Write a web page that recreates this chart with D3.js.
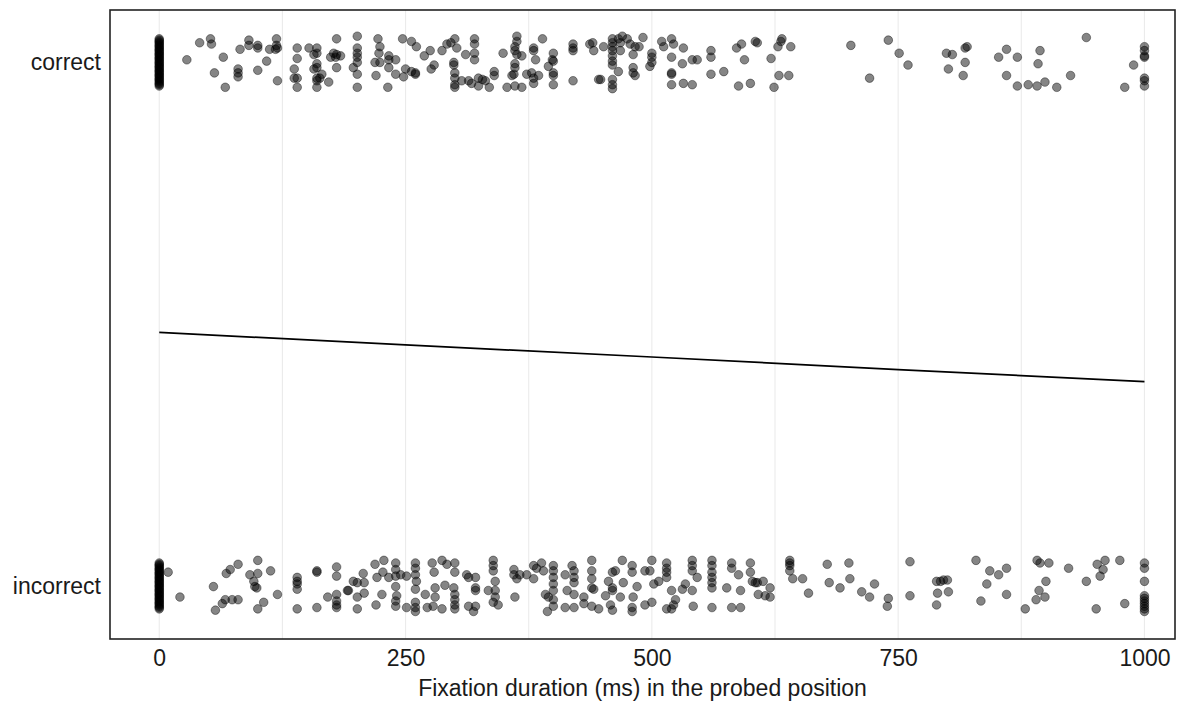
<!DOCTYPE html>
<html>
<head>
<meta charset="utf-8">
<script src="https://cdn.jsdelivr.net/npm/d3@7"></script>
<style>
  body { margin: 0; background: #fff; }
  svg { display: block; font-family: "Liberation Sans", Arial, sans-serif; }
</style>
</head>
<body>
<div id="chart"></div>
<script>
// categories (1 = correct, 0 = incorrect)
var categories = [{label: "correct", value: 1}, {label: "incorrect", value: 0}];
var xTicks = [0, 250, 500, 750, 1000];
var gridTicks = [0, 125, 250, 375, 500, 625, 750, 875, 1000];
var jitterHeight = 0.05;

// [fixation duration ms, vertical jitter as fraction of jitterHeight]
var correctPoints = [
  [0,0.9],[0,0.85],[0,0.8],[0,0.75],[0,0.7],[0,0.65],[0,0.6],[0,0.55],[0,0.5],[0,0.45],[0,0.4],[0,0.35],[0,0.3],[0,0.25],[0,0.2],[0,0.15],[0,0.1],[0,0.05],[0,0],
  [0,-0.05],[0,-0.1],[0,-0.15],[0,-0.2],[0,-0.25],[0,-0.3],[0,-0.35],[0,-0.4],[0,-0.45],[0,-0.5],[0,-0.55],[0,-0.6],[0,-0.65],[0,-0.7],[0,-0.75],[0,-0.8],[0,-0.85],[0,-0.9],
  [28,0.1],[41,0.75],[52,0.9],[53,0.7],[56,-0.4],[65,0.2],[67,-0.95],
  [80,-0.25],[80,-0.4],[80,-0.55],[82,0.5],[91,0.85],[91,0.65],[100,0.65],[100,0.55],[100,-0.3],[109,0.05],[112,0.5],[119,0.9],[119,0.65],[120,0.55],[118,0.5],[120,-0.7],
  [140,0.55],[140,0.15],[137,-0.25],[137,-0.6],[140,-0.6],[140,-0.95],[152,0.55],[160,0.55],[160,0.35],[157,0.3],[160,-0.05],[160,-0.2],[157,-0.25],[160,-0.6],[163,-0.6],[160,-0.7],[160,-0.95],[165,-0.45],[172,-0.75],
  [180,0.9],[177,0.35],[180,0.3],[184,0.25],[179,0.2],[174,0.2],[180,-0.2],
  [201,1.0],[201,0.55],[201,0.35],[201,0.2],[201,0],[197,-0.2],[201,-0.45],[201,-0.95],
  [222,0.9],[224,0.6],[223,0.35],[219,0],[224,0],[233,0.25],[233,0.1],[240,0.1],[233,-0.2],[220,-0.5],[240,-0.45],[232,-0.95],
  [247,0.9],[256,0.8],[261,0.6],[250,-0.25],[248,-0.55],[256,-0.35],[260,-0.4],[260,-0.45],
  [269,0.25],[275,0.45],[279,-0.1],[276,-0.25],
  [287,0.45],[292,0.7],[296,0.75],[300,0.9],[302,0.55],[299,0],[299,-0.1],[300,-0.4],[300,-0.6],[300,-0.85],[300,-0.95],
  [307,-0.7],[314,-0.7],[317,-0.8],[311,0.3],
  [320,0.9],[320,0.7],[320,0.35],[320,0.1],
  [324,-0.6],[328,-0.65],[324,-0.9],[331,-0.7],[335,-0.95],[340,-0.35],[340,-0.5],
  [349,0.35],[353,-0.95],[361,-0.9],[368,-0.95],
  [363,1.0],[363,0.8],[361,0.6],[361,0.45],[363,0.3],[368,0.25],[361,-0.05],[361,-0.2],[360,-0.45],[358,-0.5],
  [380,0.55],[380,0.45],[382,0.1],[373,-0.45],[378,-0.4],[380,-0.6],[380,-0.8],[385,-0.5],
  [389,0.9],[395,-0.15],[399,0.1],
  [400,0.35],[400,0.05],[400,-0.4],[400,-0.5],[400,-0.85],
  [420,0.7],[420,0.55],[420,0.45],[420,-0.7],
  [437,0.7],[440,0.75],[441,0.45],[446,-0.65],[448,-0.65],[451,0.6],
  [460,0.9],[460,0.75],[460,0.6],[460,0.45],[460,0.25],[460,0.05],[460,-0.1],[460,-0.65],[460,-0.85],[460,-1.0],
  [466,0.9],[470,1.0],[475,0.9],[478,0.7],[483,0.6],[487,0.6],[468,0.75],[468,0.45],[466,-0.35],[481,0.3],[481,-0.2],[481,-0.4],[483,-0.5],
  [491,0.95],[500,0.35],[500,0.2],[500,0],[498,-0.15],
  [510,0.8],[512,0.6],[520,0.9],[522,0.7],[532,0.55],[520,0.2],[520,-0.4],[520,-0.45],[520,-0.85],[532,-0.8],[541,-0.85],[531,-0.05],[541,0.1],[546,0.1],
  [560,0.45],[560,0.2],[560,-0.45],[573,-0.35],[586,0.55],[591,0.7],[605,0.8],[594,0.1],[588,-0.9],[600,-0.8],
  [607,0.75],[632,0.9],[631,0.8],[628,0.6],[641,0.6],[621,0.15],[629,-0.5],[639,-0.5],[624,-0.95],
  [702,0.65],[721,-0.6],[740,0.85],[751,0.35],[760,-0.1],[799,0.35],[805,0.3],[801,-0.25],
  [818,0.55],[820,0.6],[818,0],[816,-0.5],
  [860,0.5],[852,0.2],[871,0.2],[860,-0.5],[871,-0.9],[882,-0.85],[891,-0.9],[899,-0.75],[894,0.45],[892,-0.05],
  [911,-0.95],[925,-0.5],[941,0.95],[989,-0.1],[980,-0.95],
  [1000,0.6],[1000,0.45],[1000,0.25],[1000,0.2],[1000,-0.6],[1000,-0.7],[1000,-0.9]
];

var incorrectPoints = [
  [0,0.9],[0,0.85],[0,0.8],[0,0.75],[0,0.7],[0,0.65],[0,0.6],[0,0.55],[0,0.5],[0,0.45],[0,0.4],[0,0.35],[0,0.3],[0,0.25],[0,0.2],[0,0.15],[0,0.1],[0,0.05],[0,0],
  [0,-0.05],[0,-0.1],[0,-0.15],[0,-0.2],[0,-0.25],[0,-0.3],[0,-0.35],[0,-0.4],[0,-0.45],[0,-0.5],[0,-0.55],[0,-0.6],[0,-0.65],[0,-0.7],[0,-0.75],[0,-0.8],[0,-0.85],
  [9,0.55],[21,-0.4],[55,0],[57,-0.9],[68,0.5],[72,0.65],[80,0.85],[64,-0.65],[67,-0.5],[74,-0.5],[80,-0.5],
  [100,1.0],[92,0.45],[100,0.5],[96,0.2],[97,0],[99,-0.05],[113,0.6],[120,-0.3],[106,-0.6],[100,-0.85],
  [140,0.35],[140,0.2],[140,0.1],[140,-0.1],[140,-0.85],[160,0.6],[160,0.55],[160,-0.8],
  [180,0.75],[180,0.4],[171,-0.4],[180,-0.3],[180,-0.55],[180,-0.7],[180,-0.8],[191,-0.15],
  [192,-0.15],[197,0.2],[201,0.15],[207,0.5],[208,0.15],[201,-0.4],[201,-0.85],[208,-0.25],
  [219,0.85],[221,0.35],[228,1.0],[227,0.55],[220,-0.7],[226,-0.3],
  [233,0.35],[240,0.9],[240,0.65],[240,0.4],[240,0],[241,-0.35],[240,-0.55],[240,-0.75],[245,0.45],[251,0.4],[251,-0.8],
  [260,0.9],[260,0.7],[260,0.45],[261,0.2],[260,-0.1],[260,-0.6],[260,-0.8],[260,-0.95],[270,-0.3],
  [272,-0.8],[278,-0.75],[287,-0.85],[277,0.9],[279,0.55],[287,1.0],[292,0.85],[300,0.9],[300,0.55],[280,-0.05],[280,-0.4],[290,0.05],
  [299,-0.05],[300,-0.3],[300,-0.5],[300,-0.7],[300,-0.85],
  [312,0.45],[314,0.35],[321,0.35],[321,-0.05],[321,-0.15],[314,-0.75],[321,-0.75],[319,-0.95],
  [334,-0.15],[339,1.0],[339,0.8],[339,0.6],[341,0.2],[341,-0.15],[341,-0.4],[339,-0.6],[344,-0.7],
  [360,0.65],[360,0.45],[363,0.3],[366,0.45],[373,0.45],[380,0.3],[361,-0.4],
  [380,0.8],[383,0.7],[388,0.9],[390,0.6],[392,-0.3],[395,-0.4],[394,-0.95],
  [400,0.8],[400,0.6],[400,0.35],[400,0.1],[400,-0.15],[400,-0.5],[400,-0.75],
  [412,0.45],[414,-0.15],[412,-0.8],[419,0.8],[421,0.6],[421,0.35],[421,0.15],[421,-0.3],[421,-0.8],
  [431,-0.4],[431,-0.65],[439,1.0],[439,0.6],[439,0.3],[439,-0.05],[441,-0.1],[439,-0.75],[446,-0.85],
  [453,-0.35],[456,0.2],[460,0.55],[460,-0.05],[460,-0.15],[463,0.6],[458,-0.7],[460,-0.9],
  [468,-0.4],[470,1.0],[471,0.15],[480,0.8],[480,0.55],[481,-0.4],[480,-0.8],[480,-0.95],[485,0],
  [493,0.6],[498,0.6],[500,1.0],[502,0.1],[507,0.2],[493,-0.7],[500,-0.6],
  [515,0.9],[515,0.7],[515,0.55],[515,0.35],[520,-0.15],[524,-0.5],[515,-0.85],[520,-0.85],[522,-0.7],
  [531,-0.1],[534,0.1],[541,1.0],[541,0.8],[541,0.6],[546,0.35],[541,-0.15],[542,-0.75],
  [561,1.0],[561,0.8],[561,0.55],[561,0.35],[561,0.15],[561,-0.05],[561,-0.8],
  [576,-0.05],[581,0.9],[581,0.7],[588,0.45],[590,-0.15],[581,-0.8],[590,-0.8],
  [600,0.9],[600,0.55],[602,0.2],[605,0.15],
  [607,0.15],[613,0.2],[620,-0.05],[608,-0.3],[615,-0.35],[620,-0.4],
  [640,1.0],[640,0.9],[640,0.8],[640,0.6],[643,0.3],[653,0.3],[659,-0.25],
  [678,0.85],[680,0.15],[691,-0.05],[700,0.9],[701,0.3],[713,-0.2],[721,-0.4],[726,0.1],[740,-0.45],[739,-0.75],
  [762,0.95],[762,-0.35],[789,0.2],[793,0.2],[796,0.25],[800,0.25],[790,-0.25],[801,-0.2],[789,-0.7],
  [829,1.0],[843,0.6],[852,0.45],[860,0.7],[840,0.1],[834,-0.55],[860,-0.3],[879,-0.85],
  [891,1.0],[894,0.9],[903,0.9],[900,0.2],[893,-0.15],[890,-0.5],[899,-0.4],[923,0.7],[941,0.2],
  [952,0.85],[960,1.0],[958,0.65],[955,0.4],[975,1.0],[951,-0.85],[980,-0.65],
  [1000,0.9],[1000,0.7],[1000,0.2],[1000,-0.35],[1000,-0.45],[1000,-0.55],[1000,-0.65],[1000,-0.75],[1000,-0.85],[1000,-0.95]
];

// fitted probability of a correct answer
var fitX = [0, 250, 500, 750, 1000];
var fitP = [0.485, 0.461, 0.438, 0.414, 0.391];

var width = 1190, height = 702;
var margin = {top: 10, right: 15, bottom: 63, left: 110};
var fontSize = 23;

var svg = d3.select("#chart").append("svg")
  .attr("width", width).attr("height", height);

var x = d3.scaleLinear().domain([-50, 1031]).range([margin.left, width - margin.right]);
var y = d3.scaleLinear().domain([-0.1, 1.1]).range([height - margin.bottom, margin.top]);

/* grid */
svg.append("g").selectAll("line").data(gridTicks).enter().append("line")
  .attr("x1", function(d){ return x(d); }).attr("x2", function(d){ return x(d); })
  .attr("y1", margin.top).attr("y2", height - margin.bottom)
  .style("stroke", "#ebebeb").style("stroke-width", 1.1);

/* points */
var allPoints = correctPoints.map(function(p){ return {ms: p[0], v: 1 + p[1] * jitterHeight}; })
  .concat(incorrectPoints.map(function(p){ return {ms: p[0], v: 0 + p[1] * jitterHeight}; }));

svg.append("g").selectAll("circle").data(allPoints).enter().append("circle")
  .attr("cx", function(d){ return x(d.ms); })
  .attr("cy", function(d){ return y(d.v); })
  .attr("r", 4.3)
  .style("fill", "rgba(0,0,0,0.48)")
  .style("stroke", "rgba(0,0,0,0.45)")
  .style("stroke-width", 0.9);

/* fitted line */
var line = d3.line().x(function(d){ return x(d[0]); }).y(function(d){ return y(d[1]); });
svg.append("path")
  .datum(fitX.map(function(d, i){ return [d, fitP[i]]; }))
  .attr("d", line)
  .style("fill", "none").style("stroke", "#000").style("stroke-width", 1.7);

/* panel border */
svg.append("rect")
  .attr("x", margin.left).attr("y", margin.top)
  .attr("width", width - margin.left - margin.right)
  .attr("height", height - margin.top - margin.bottom)
  .style("fill", "none").style("stroke", "#222").style("stroke-width", 1.6);

/* x axis */
var xAxis = svg.append("g")
  .attr("transform", "translate(0," + (height - margin.bottom) + ")")
  .call(d3.axisBottom(x).tickValues(xTicks).tickSize(0).tickPadding(11).tickFormat(d3.format("d")));
xAxis.select(".domain").remove();
xAxis.selectAll("text").style("font-size", fontSize + "px").style("fill", "#1a1a1a")
  .style("font-family", "'Liberation Sans', Arial, sans-serif");

/* y axis */
var yAxis = svg.append("g")
  .attr("transform", "translate(" + margin.left + ",0)")
  .call(d3.axisLeft(y).tickValues(categories.map(function(c){ return c.value; }))
    .tickSize(0).tickPadding(9)
    .tickFormat(function(d){ return categories.filter(function(c){ return c.value === d; })[0].label; }));
yAxis.select(".domain").remove();
yAxis.selectAll("text").style("font-size", fontSize + "px").style("fill", "#1a1a1a")
  .style("font-family", "'Liberation Sans', Arial, sans-serif");

/* axis title */
svg.append("text")
  .attr("x", (margin.left + width - margin.right) / 2)
  .attr("y", 696)
  .attr("text-anchor", "middle")
  .style("font-size", fontSize + "px").style("fill", "#1a1a1a")
  .text("Fixation duration (ms) in the probed position");
</script>
</body>
</html>
